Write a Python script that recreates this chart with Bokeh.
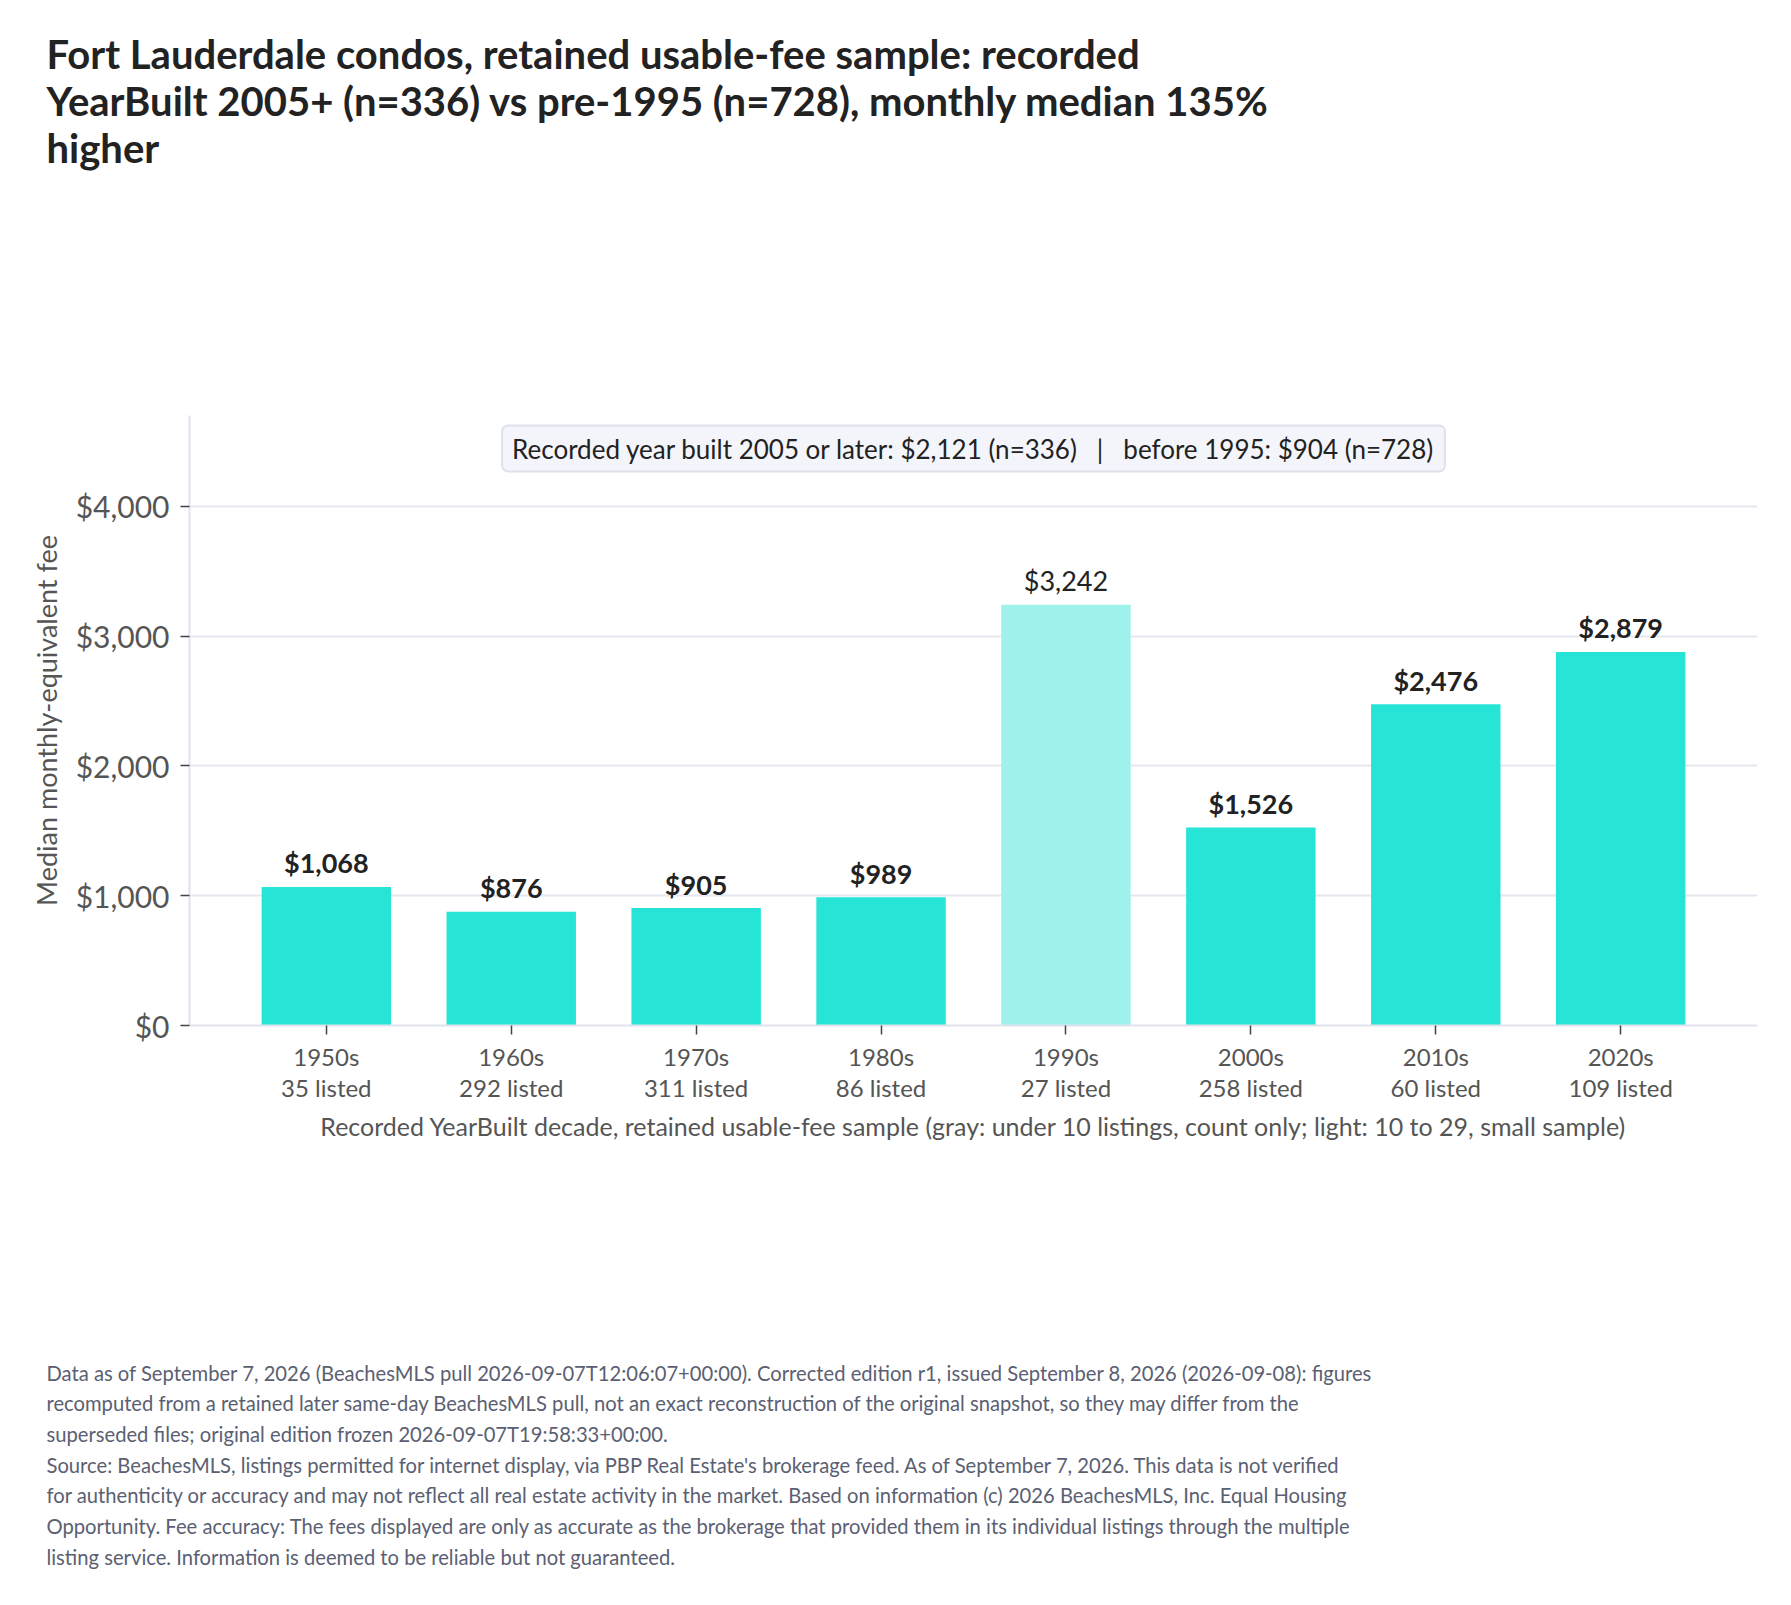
from bokeh.plotting import figure
from bokeh.models import ColumnDataSource, FixedTicker, NumeralTickFormatter, Label, Range1d, Title
from bokeh.core.properties import value
from bokeh.embed import file_html
from bokeh.resources import INLINE

# ---- data ----
decades = ["1950s", "1960s", "1970s", "1980s", "1990s", "2000s", "2010s", "2020s"]
medians = [1068, 876, 905, 989, 3242, 1526, 2476, 2879]
listed = [35, 292, 311, 86, 27, 258, 60, 109]
y_ticks = [0, 1000, 2000, 3000, 4000]

title_lines = [
    "Fort Lauderdale condos, retained usable-fee sample: recorded",
    "YearBuilt 2005+ (n=336) vs pre-1995 (n=728), monthly median 135%",
    "higher",
]
SEP = "\u00a0\u00a0\u00a0|\u00a0\u00a0\u00a0"
summary_text = "Recorded year built 2005 or later: $2,121 (n=336)" + SEP + "before 1995: $904 (n=728)"
x_label = "Recorded YearBuilt decade, retained usable-fee sample (gray: under 10 listings, count only; light: 10 to 29, small sample)"
y_label = "Median monthly-equivalent fee"
footer_lines = [
    "Data as of September 7, 2026 (BeachesMLS pull 2026-09-07T12:06:07+00:00). Corrected edition r1, issued September 8, 2026 (2026-09-08): figures",
    "recomputed from a retained later same-day BeachesMLS pull, not an exact reconstruction of the original snapshot, so they may differ from the",
    "superseded files; original edition frozen 2026-09-07T19:58:33+00:00.",
    "Source: BeachesMLS, listings permitted for internet display, via PBP Real Estate's brokerage feed. As of September 7, 2026. This data is not verified",
    "for authenticity or accuracy and may not reflect all real estate activity in the market. Based on information (c) 2026 BeachesMLS, Inc. Equal Housing",
    "Opportunity. Fee accuracy: The fees displayed are only as accurate as the brokerage that provided them in its individual listings through the multiple",
    "listing service. Information is deemed to be reliable but not guaranteed.",
]

# ---- styling ----
FULL = "#26E5D6"
LIGHT = "#9EF2EB"
GRAY = "#C9CDD8"
FONT = "Lato"

W, H = 1775, 1589
LEFT, RIGHT, TOP, BOTTOM = 189, 18, 415, 564

def bar_color(n):
    if n < 10:
        return GRAY
    if n < 30:
        return LIGHT
    return FULL

xs = list(range(len(decades)))
colors = [bar_color(n) for n in listed]
labels = ["${:,}".format(v) for v in medians]

src = ColumnDataSource(dict(x=xs, top=medians, color=colors, label=labels))
strong = [i for i, n in enumerate(listed) if n >= 30]
weak = [i for i, n in enumerate(listed) if 10 <= n < 30]
src_strong = ColumnDataSource(dict(x=[xs[i] for i in strong], y=[medians[i] for i in strong],
                                   label=[labels[i] for i in strong]))
src_weak = ColumnDataSource(dict(x=[xs[i] for i in weak], y=[medians[i] for i in weak],
                                 label=[labels[i] for i in weak]))

p = figure(width=W, height=H, output_backend="svg", toolbar_location=None,
           x_range=Range1d(-0.74, len(decades) - 1 + 0.74),
           y_range=Range1d(0, max(medians) * 1.45),
           min_border_left=LEFT, min_border_right=RIGHT,
           min_border_top=TOP, min_border_bottom=BOTTOM)
p.outline_line_color = None
p.background_fill_color = "white"
p.border_fill_color = "white"
p.title.text = ""

p.vbar(x="x", top="top", width=0.7, fill_color="color", line_color=None, source=src)

p.text(x="x", y="y", text="label", source=src_strong, text_align="center",
       text_baseline="alphabetic", y_offset=-24, text_font=value(FONT),
       text_font_style="bold", text_font_size="27px", text_color="#222222")
p.text(x="x", y="y", text="label", source=src_weak, text_align="center",
       text_baseline="alphabetic", y_offset=-24, text_font=value(FONT),
       text_font_style="normal", text_font_size="27px", text_color="#222222")

# axes
p.xgrid.grid_line_color = None
p.ygrid.grid_line_color = "#E6E8F0"
p.ygrid.grid_line_width = 2
p.ygrid.ticker = FixedTicker(ticks=y_ticks)

p.yaxis.ticker = FixedTicker(ticks=y_ticks)
p.yaxis.formatter = NumeralTickFormatter(format="$0,0")
p.yaxis.axis_label = y_label
p.yaxis.axis_label_text_font = FONT
p.yaxis.axis_label_text_font_style = "normal"
p.yaxis.axis_label_text_font_size = "27px"
p.yaxis.axis_label_text_color = "#555555"
p.yaxis.axis_label_standoff = 10
p.yaxis.major_label_text_font = FONT
p.yaxis.major_label_text_font_size = "30px"
p.yaxis.major_label_text_color = "#555555"
p.yaxis.major_label_standoff = 11

p.xaxis.ticker = FixedTicker(ticks=xs)
p.xaxis.major_label_overrides = {i: "{}\n{} listed".format(d, n) for i, (d, n) in enumerate(zip(decades, listed))}
p.xaxis.axis_label = x_label
p.xaxis.axis_label_text_font = FONT
p.xaxis.axis_label_text_font_style = "normal"
p.xaxis.axis_label_text_font_size = "25px"
p.xaxis.axis_label_text_color = "#555555"
p.xaxis.axis_label_standoff = 6
p.xaxis.major_label_text_font = FONT
p.xaxis.major_label_text_font_size = "24px"
p.xaxis.major_label_text_color = "#555555"
p.xaxis.major_label_text_line_height = 1.08
p.xaxis.major_label_standoff = 7

for ax in (p.xaxis, p.yaxis):
    ax.axis_line_color = "#E0E3EE"
    ax.axis_line_width = 2
    ax.major_tick_line_color = "#444444"
    ax.major_tick_line_width = 1.5
    ax.major_tick_out = 9
    ax.major_tick_in = 0
    ax.minor_tick_line_color = None

# summary box at the top of the frame
frame_h = H - TOP - BOTTOM
p.add_layout(Label(x=(len(decades) - 1) / 2, y=frame_h - 33, x_units="data", y_units="screen",
                   text=summary_text, text_align="center", text_baseline="middle",
                   text_font=FONT, text_font_size="26px", text_color="#222222",
                   background_fill_color="#F4F5FA", border_line_color="#DEE1EC",
                   border_line_width=2, border_radius=6, padding=(10, 7)))

# title block above the frame (first added sits nearest the frame)
p.add_layout(Title(text=" ", text_font_size="10px", standoff=229), "above")
p.add_layout(Title(text="\n".join(title_lines), align="left", vertical_align="top",
                   offset=46 - LEFT, standoff=0, text_font=FONT, text_font_style="bold",
                   text_font_size="40px", text_line_height=0.98, text_color="#222222"), "above")

# footer block below the x axis
p.add_layout(Title(text=" ", text_font_size="10px", standoff=204), "below")
p.add_layout(Title(text="\n".join(footer_lines), align="left", vertical_align="top",
                   offset=46 - LEFT, standoff=0, text_font=FONT, text_font_style="normal",
                   text_font_size="20.2px", text_line_height=1.28, text_color="#5A6072"), "below")

open("out.html", "w").write(file_html(p, INLINE))
